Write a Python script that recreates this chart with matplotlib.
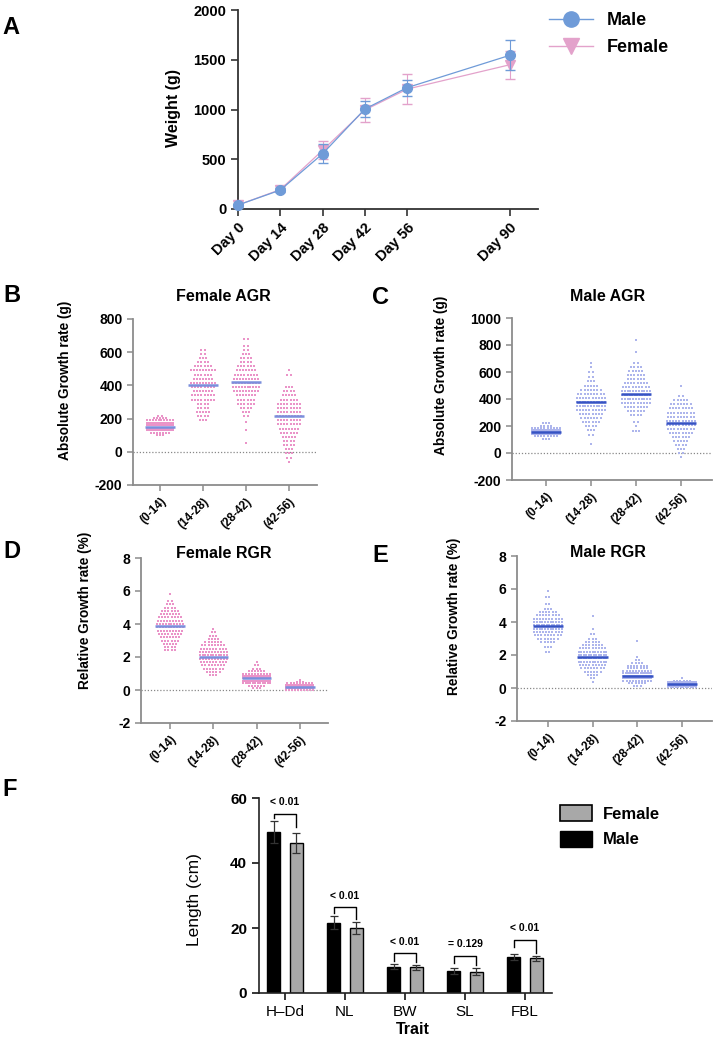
import numpy as np
import matplotlib
matplotlib.use('Agg')
import matplotlib.pyplot as plt
from matplotlib import font_manager
from matplotlib.lines import Line2D
from matplotlib.patches import Patch

def has_font(name):
    try:
        font_manager.findfont(name, fallback_to_default=False)
        return True
    except Exception:
        return False

narrow = 'Liberation Sans Narrow' if has_font('Liberation Sans Narrow') else 'Liberation Sans'
plt.rcParams['font.family'] = ['Liberation Sans', 'DejaVu Sans']
plt.rcParams['axes.unicode_minus'] = False

# ---- data: panel A (body weight)
days = [0, 14, 28, 42, 56, 90]
day_labels = ['Day 0', 'Day 14', 'Day 28', 'Day 42', 'Day 56', 'Day 90']
male_w = [40, 190, 555, 1005, 1220, 1545]
male_w_err = [15, 20, 95, 80, 80, 150]
female_w = [40, 195, 590, 995, 1205, 1450]
female_w_err = [15, 20, 90, 125, 150, 140]

# ---- data: swarm panels, each group = (row values, counts per row), plus medians
periods = ['(0-14)', '(14-28)', '(28-42)', '(42-56)']

f_agr_vals = [
    [100, 115, 130, 145, 160, 175, 190, 205, 215],
    [190, 215, 240, 265, 290, 315, 340, 365, 390, 415, 440, 465, 490, 515, 540, 565, 590, 615],
    [55, 130, 180, 215, 240, 265, 290, 315, 340, 365, 390, 415, 440, 465, 490, 515, 540, 565, 590, 615, 640, 680],
    [-60, -35, -10, 15, 40, 65, 90, 115, 140, 165, 190, 215, 240, 265, 290, 315, 340, 365, 390, 465, 495],
]
f_agr_counts = [
    [3, 7, 14, 20, 20, 15, 10, 5, 2],
    [3, 4, 5, 4, 4, 8, 8, 7, 8, 9, 7, 6, 9, 6, 4, 3, 2, 2],
    [1, 1, 1, 2, 3, 4, 6, 6, 7, 9, 10, 10, 9, 8, 7, 6, 4, 4, 3, 2, 2, 2],
    [1, 2, 3, 3, 4, 4, 5, 6, 7, 8, 8, 9, 8, 8, 8, 6, 5, 4, 3, 2, 1],
]
f_agr_med = [152, 405, 420, 215]

m_agr_vals = [
    [105, 125, 140, 155, 170, 185, 200, 220],
    [70, 135, 170, 200, 230, 260, 290, 320, 350, 380, 410, 440, 470, 500, 530, 560, 600, 640, 670],
    [165, 200, 230, 280, 310, 340, 370, 400, 430, 460, 490, 520, 550, 580, 610, 640, 670, 750, 835],
    [-30, 0, 30, 60, 90, 120, 150, 180, 210, 240, 270, 300, 330, 360, 390, 420, 500],
]
m_agr_counts = [
    [3, 8, 18, 28, 22, 10, 4, 3],
    [1, 2, 3, 4, 6, 7, 8, 10, 11, 11, 10, 9, 7, 5, 3, 2, 2, 1, 1],
    [3, 1, 2, 4, 6, 8, 10, 11, 12, 11, 9, 8, 6, 6, 5, 4, 2, 1, 1],
    [1, 2, 3, 4, 5, 6, 8, 9, 10, 10, 9, 9, 8, 7, 5, 2, 1],
]
m_agr_med = [155, 375, 440, 225]

f_rgr_vals = [
    [2.4, 2.6, 2.8, 3.0, 3.2, 3.4, 3.6, 3.8, 4.0, 4.2, 4.4, 4.6, 4.8, 5.0, 5.2, 5.4, 5.8],
    [0.9, 1.1, 1.3, 1.5, 1.7, 1.9, 2.1, 2.3, 2.5, 2.7, 2.9, 3.1, 3.3, 3.5, 3.7],
    [0.1, 0.25, 0.4, 0.55, 0.7, 0.85, 1.0, 1.15, 1.3, 1.5, 1.7],
    [0.0, 0.1, 0.2, 0.3, 0.4, 0.5, 0.6],
]
f_rgr_counts = [
    [4, 4, 5, 6, 7, 8, 9, 10, 10, 9, 8, 7, 6, 4, 3, 2, 1],
    [3, 5, 7, 8, 9, 10, 11, 10, 9, 8, 6, 4, 3, 2, 1],
    [3, 6, 12, 18, 22, 16, 10, 6, 3, 2, 1],
    [10, 22, 32, 22, 9, 3, 1],
]
f_rgr_med = [3.85, 2.0, 0.7, 0.2]

m_rgr_vals = [
    [2.2, 2.5, 2.8, 3.0, 3.2, 3.4, 3.6, 3.8, 4.0, 4.2, 4.4, 4.6, 4.8, 5.1, 5.5, 5.9],
    [0.35, 0.6, 0.8, 1.0, 1.2, 1.4, 1.6, 1.8, 2.0, 2.2, 2.4, 2.6, 2.8, 3.0, 3.3, 3.6, 4.35],
    [0.15, 0.3, 0.45, 0.6, 0.75, 0.9, 1.05, 1.2, 1.35, 1.5, 1.7, 1.9, 2.85],
    [0.05, 0.15, 0.25, 0.35, 0.45, 0.6],
]
m_rgr_counts = [
    [2, 3, 5, 7, 9, 10, 11, 12, 11, 10, 8, 6, 3, 2, 2, 1],
    [1, 2, 4, 6, 8, 9, 11, 12, 12, 11, 9, 7, 5, 3, 2, 1, 1],
    [3, 6, 10, 16, 18, 14, 10, 7, 7, 4, 2, 1, 1],
    [12, 28, 34, 18, 6, 1],
]
m_rgr_med = [3.75, 1.9, 0.75, 0.22]

# ---- data: panel F (body measurements)
traits = ['H\u2013Dd', 'NL', 'BW', 'SL', 'FBL']
male_len = [49.5, 21.6, 8.1, 6.8, 11.2]
male_len_err = [3.3, 2.0, 0.8, 0.9, 0.9]
female_len = [46.2, 20.0, 7.9, 6.6, 10.7]
female_len_err = [3.0, 1.8, 0.8, 1.0, 0.7]
p_text = ['< 0.01', '< 0.01', '< 0.01', '= 0.129', '< 0.01']

W, H = 714, 1042
fig = plt.figure(figsize=(W / 100, H / 100), dpi=100)

def rect(l, r, t, b):
    return [l / W, 1 - b / H, (r - l) / W, (b - t) / H]

male_blue = '#6f9bd8'
female_pink = '#e3a2cb'

# ================= A
axA = fig.add_axes(rect(238, 538, 10, 209))
axA.errorbar(days, female_w, yerr=female_w_err, color=female_pink, lw=0.9, marker='v',
             ms=7, capsize=3.5, elinewidth=0.8, clip_on=False, zorder=3)
axA.errorbar(days, male_w, yerr=male_w_err, color=male_blue, lw=0.9, marker='o',
             ms=7, capsize=3.5, elinewidth=0.8, clip_on=False, zorder=4)
axA.set_xlim(0, 99.3)
axA.set_ylim(0, 2000)
axA.set_yticks([0, 500, 1000, 1500, 2000])
axA.set_xticks(days)
axA.set_xticklabels(day_labels, rotation=45, ha='right', rotation_mode='anchor')
for s in ['top', 'right']:
    axA.spines[s].set_visible(False)
for s in ['left', 'bottom']:
    axA.spines[s].set_color('#333333')
    axA.spines[s].set_linewidth(1.3)
axA.tick_params(length=5, width=1.2, color='#333333')
for lab in axA.get_xticklabels() + axA.get_yticklabels():
    lab.set_fontfamily(narrow)
    lab.set_fontweight('bold')
    lab.set_fontsize(10.5)
axA.set_ylabel('Weight (g)', fontfamily=narrow, fontweight='bold', fontsize=11.5)
axA.yaxis.set_label_coords(-0.19, 0.51)
hA = [Line2D([], [], color=male_blue, marker='o', ms=11, lw=1),
      Line2D([], [], color=female_pink, marker='v', ms=11, lw=1)]
fig.legend(hA, ['Male', 'Female'], loc='upper left', bbox_to_anchor=(533 / W, 1.004),
           frameon=False, prop={'family': narrow, 'weight': 'bold', 'size': 13},
           handlelength=2.4, labelspacing=0.55, handletextpad=0.8)

# ================= swarm panels
def swarm(ax, vals_list, counts_list, meds, color, medcolor, ylim, yticks, title,
          ylabel, lab_xy, title_xy):
    for i, (vals, counts) in enumerate(zip(vals_list, counts_list)):
        xs, ys = [], []
        for v, n in zip(vals, counts):
            step = min(0.072, 0.62 / max(n - 1, 1))
            off = (np.arange(n) - (n - 1) / 2) * step
            xs.extend(i + off)
            ys.extend([v] * n)
        ax.scatter(xs, ys, s=2.2, marker='s', color=color, linewidths=0, zorder=3)
        ax.hlines(meds[i], i - 0.34, i + 0.34, color=medcolor, lw=1.8, zorder=4)
    ax.axhline(0, color='#888888', lw=0.9, ls=(0, (1, 1.5)), zorder=1)
    ax.set_ylim(*ylim)
    ax.set_yticks(yticks)
    ax.set_xticks(range(len(periods)))
    ax.set_xticklabels(periods, rotation=45, ha='right', rotation_mode='anchor')
    for s in ['top', 'right']:
        ax.spines[s].set_visible(False)
    for s in ['left', 'bottom']:
        ax.spines[s].set_color('#8c8c8c')
        ax.spines[s].set_linewidth(1.3)
    ax.tick_params(axis='both', length=4, width=1.1, color='#8c8c8c')
    for lab in ax.get_yticklabels():
        lab.set_fontweight('bold')
        lab.set_fontsize(10)
    for lab in ax.get_xticklabels():
        lab.set_fontweight('bold')
        lab.set_fontsize(8.5)
    ax.set_ylabel(ylabel, fontweight='bold', fontsize=9.8)
    ax.yaxis.set_label_coords(*lab_xy)
    ax.text(title_xy[0], title_xy[1], title, transform=ax.transAxes, ha='center',
            va='center', fontweight='bold', fontsize=11.5)

axB = fig.add_axes(rect(133, 317, 319, 485))
axB.set_xlim(-0.628, 3.65)
swarm(axB, f_agr_vals, f_agr_counts, f_agr_med, '#ea94c8', '#7a8fdc', (-200, 800),
      [-200, 0, 200, 400, 600, 800], 'Female AGR', 'Absolute Growth rate (g)',
      (-0.33, 0.633), (0.49, 1.133))

axC = fig.add_axes(rect(512, 712, 318, 480))
axC.set_xlim(-0.756, 3.69)
swarm(axC, m_agr_vals, m_agr_counts, m_agr_med, '#adb5ec', '#3653c4', (-200, 1000),
      [-200, 0, 200, 400, 600, 800, 1000], 'Male AGR', 'Absolute Growth rate (g)',
      (-0.32, 0.648), (0.48, 1.13))

axD = fig.add_axes(rect(141, 328, 558, 723))
axD.set_xlim(-0.67, 3.65)
swarm(axD, f_rgr_vals, f_rgr_counts, f_rgr_med, '#ea94c8', '#7a8fdc', (-2, 8),
      [-2, 0, 2, 4, 6, 8], 'Female RGR', 'Relative Growth rate (%)',
      (-0.262, 0.68), (0.44, 1.03))

axE = fig.add_axes(rect(517, 712, 556, 721))
axE.set_xlim(-0.69, 3.67)
swarm(axE, m_rgr_vals, m_rgr_counts, m_rgr_med, '#adb5ec', '#3653c4', (-2, 8),
      [-2, 0, 2, 4, 6, 8], 'Male RGR', 'Relative Growth rate (%)',
      (-0.287, 0.636), (0.467, 1.02))

# ================= F
axF = fig.add_axes(rect(259, 552, 798, 993))
x = np.arange(len(traits))
bw = 0.225
axF.bar(x - 0.19, male_len, bw, yerr=male_len_err, color='black', edgecolor='black',
        lw=1, capsize=3, error_kw={'elinewidth': 0.9, 'ecolor': '#333333', 'capthick': 0.9})
axF.bar(x + 0.19, female_len, bw, yerr=female_len_err, color='#a8a8a8', edgecolor='black',
        lw=1, capsize=3, error_kw={'elinewidth': 0.9, 'ecolor': '#333333', 'capthick': 0.9})
for i in range(len(traits)):
    top = max(male_len[i] + male_len_err[i], female_len[i] + female_len_err[i])
    yb = top + 2.3 + 0.5 * i
    lm = male_len[i] + male_len_err[i] + 0.9
    lf = female_len[i] + female_len_err[i] + 0.9
    axF.plot([x[i] - 0.19, x[i] - 0.19, x[i] + 0.19, x[i] + 0.19],
             [max(lm, yb - 2.2), yb, yb, max(lf, yb - 4)], color='black', lw=1)
    axF.text(x[i], yb + 2.0, p_text[i], ha='center', va='bottom', fontsize=7.5,
             fontfamily=narrow, fontweight='bold')
axF.set_xlim(-0.433, 4.45)
axF.set_ylim(0, 60)
axF.set_yticks([0, 20, 40, 60])
axF.set_xticks(x)
axF.set_xticklabels(traits, fontsize=11)
for s in ['top', 'right']:
    axF.spines[s].set_visible(False)
for s in ['left', 'bottom']:
    axF.spines[s].set_linewidth(1.2)
    axF.spines[s].set_color('#222222')
axF.tick_params(length=5, width=1.1)
for lab in axF.get_yticklabels():
    lab.set_fontfamily(narrow)
    lab.set_fontweight('bold')
    lab.set_fontsize(11)
axF.set_ylabel('Length (cm)', fontsize=12.5)
axF.yaxis.set_label_coords(-0.195, 0.477)
axF.set_xlabel('Trait', fontsize=11.5, fontweight='bold', fontfamily=narrow)
axF.xaxis.set_label_coords(0.526, -0.15)
hF = [Patch(facecolor='#a8a8a8', edgecolor='black', lw=1.2),
      Patch(facecolor='black', edgecolor='black')]
fig.legend(hF, ['Female', 'Male'], loc='upper left', bbox_to_anchor=(545 / W, 1 - 790 / H),
           frameon=False, prop={'family': narrow, 'weight': 'bold', 'size': 12},
           handlelength=1.9, handleheight=1.1, labelspacing=0.55, handletextpad=0.7)

# panel letters
for letter, px, py in [('A', 2, 28), ('B', 3, 295), ('C', 372, 297), ('D', 3, 552),
                       ('E', 372, 555), ('F', 2, 790)]:
    fig.text(px / W, 1 - py / H, letter, fontsize=17, fontweight='bold', ha='left', va='center')

fig.savefig('out.png', dpi=100)
